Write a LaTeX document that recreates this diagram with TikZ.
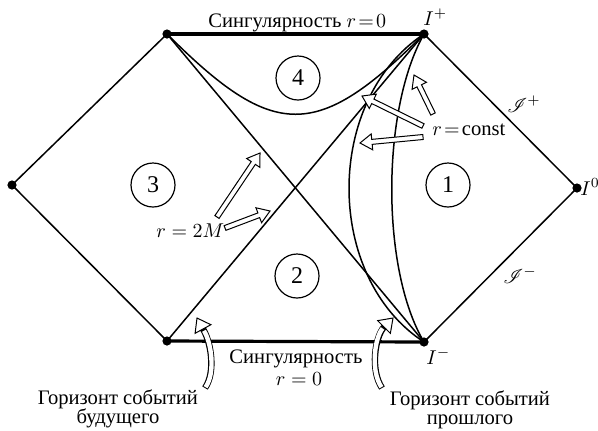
\documentclass[tikz,border=0pt]{standalone}
\usepackage{fontspec}
\setmainfont{Liberation Serif}
\usepackage{mathrsfs}
\usetikzlibrary{calc}
\def\shaftw{1.25pt}
\def\headw{4pt}
\def\headlen{6pt}
\newcommand\hollowarrow[2]{%
  \filldraw[harrow] let \p1=(#1), \p2=(#2),
     \n1={atan2(\y2-\y1,\x2-\x1)},
     \n2={veclen(\x2-\x1,\y2-\y1)-\headlen}
  in ($(\p1)+({\n1+90}:\shaftw)$)
  -- ($(\p1)+(\n1:\n2)+({\n1+90}:\shaftw)$)
  -- ($(\p1)+(\n1:\n2)+({\n1+90}:\headw)$)
  -- (\p2)
  -- ($(\p1)+(\n1:\n2)+({\n1-90}:\headw)$)
  -- ($(\p1)+(\n1:\n2)+({\n1-90}:\shaftw)$)
  -- ($(\p1)+({\n1-90}:\shaftw)$) -- cycle;}
\newcommand\hollowhead[2]{%
  \filldraw[harrow] let \p1=(#1), \p2=(#2),
     \n1={atan2(\y2-\y1,\x2-\x1)}
  in ($(\p1)+({\n1+90}:4.5pt)$) -- (\p2) -- ($(\p1)+({\n1-90}:4.5pt)$) -- cycle;}
\tikzset{
  ln/.style={line width=0.75pt, line join=round},
  sing/.style={line width=1.6pt},
  dot/.style={circle, fill=black, inner sep=0pt, minimum size=4.6pt},
  num/.style={circle, draw, line width=0.6pt, inner sep=0pt, minimum size=22pt, font=\fontsize{12}{14}\selectfont},
  lab/.style={inner sep=0pt, font=\fontsize{10.3}{12}\selectfont},
  harrow/.style={draw=black, fill=white, line width=0.5pt, line join=miter},
  cshaftout/.style={draw=black, line width=3.2pt, line cap=butt},
  cshaftin/.style={draw=white, line width=2.2pt, line cap=butt}
}
\begin{document}
\begin{tikzpicture}[x=0.5pt,y=-0.5pt]
\useasboundingbox (0,0) rectangle (598,430);
% vertices
\node[dot] (L)  at (12,185) {};
\node[dot] (TL) at (167,34) {};
\node[dot] (Ip) at (424,34) {};
\node[dot] (I0) at (577,188) {};
\node[dot] (Im) at (424,342) {};
\node[dot] (BL) at (167,341) {};
% singularities
\draw[sing] (TL.center) -- (Ip.center);
\draw[sing] (BL.center) -- (Im.center);
% boundaries and horizons
\draw[ln] (L.center) -- (TL.center);
\draw[ln] (L.center) -- (BL.center);
\draw[ln] (TL.center) -- (Im.center);
\draw[ln] (BL.center) -- (Ip.center);
\draw[ln] (Ip.center) -- (I0.center) -- (Im.center);
% r = const curves
\draw[ln] (TL.center) .. controls (274,141) and (317,141) .. (Ip.center);
\draw[ln] (Ip.center) .. controls (324,100) and (324,277) .. (Im.center);
\draw[ln] (Ip.center) .. controls (381,110) and (381,270) .. (Im.center);
% region numbers
\node[num] (n4) at (298,78) {4};
\node[num] (n3) at (153,185) {3};
\node[num] (n1) at (448,185) {1};
\node[num] (n2) at (297,276) {2};
% labels
\node[lab, anchor=base west] (ttop) at (208,27) {Сингулярность $r\!=\!0$};
\node[lab, anchor=base west] (lIp) at (423,25) {$I^+$};
\node[lab, anchor=base west] (lI0) at (580,195) {$I^0$};
\node[lab, anchor=base west] (lIm) at (426,364) {$I^-$};
\node[lab, anchor=base west] (lsp) at (507,112) {$\mathscr{I}^+$};
\node[lab, anchor=base west] (lsm) at (503,283) {$\mathscr{I}^-$};
\node[lab, anchor=base west] (lrc) at (432,135) {$r\!=\!\mathrm{const}$};
\node[lab, anchor=base west] (lr2) at (156,237) {$r=2M$};
\node[lab, anchor=base] (bs1) at (296,363) {Сингулярность};
\node[lab, anchor=base] (bs2) at (299,385) {$r=0$};
\node[lab, anchor=base] (hf1) at (118,404) {Горизонт событий};
\node[lab, anchor=base] (hf2) at (118,423) {будущего};
\node[lab, anchor=base] (hp1) at (470,405) {Горизонт событий};
\node[lab, anchor=base] (hp2) at (470,424) {прошлого};
% straight pointer arrows
\coordinate (a1t) at (433,114); \coordinate (a1h) at (414,75);
\coordinate (a2t) at (423,126); \coordinate (a2h) at (362,96);
\coordinate (a3t) at (423,137); \coordinate (a3h) at (360,143);
\coordinate (a4t) at (217,217); \coordinate (a4h) at (260,153);
\coordinate (a5t) at (225,228); \coordinate (a5h) at (270,211);
\hollowarrow{a1t}{a1h}
\hollowarrow{a2t}{a2h}
\hollowarrow{a3t}{a3h}
\hollowarrow{a4t}{a4h}
\hollowarrow{a5t}{a5h}
% curved arrows
\coordinate (c1t) at (205,388); \coordinate (c1b) at (203,329); \coordinate (c1h) at (197,318);
\coordinate (c2t) at (382,388); \coordinate (c2b) at (384,327); \coordinate (c2h) at (393,318);
\hollowhead{c1b}{c1h}
\hollowhead{c2b}{c2h}
\draw[cshaftout] (c1t) .. controls (216,372) and (211,342) .. (c1b);
\draw[cshaftin, shorten <=0.5pt] (c1t) .. controls (216,372) and (211,342) .. ($(c1b)!-1pt!(c1h)$);
\draw[cshaftout] (c2t) .. controls (370,370) and (375,337) .. (c2b);
\draw[cshaftin, shorten <=0.5pt] (c2t) .. controls (370,370) and (375,337) .. ($(c2b)!-1pt!(c2h)$);
\end{tikzpicture}
\end{document}
